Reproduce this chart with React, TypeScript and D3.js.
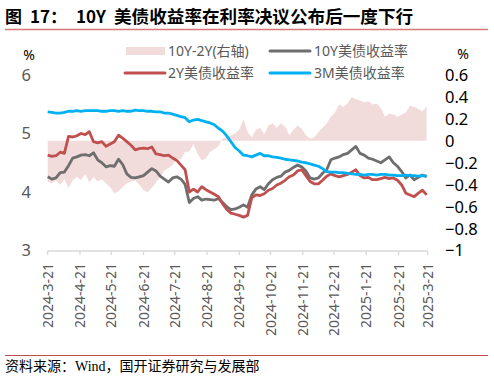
import React from "react";
import * as d3 from "d3";

// 10Y UST yield (%), sampled every 4 days from 2024-03-21
const y10 = [4.26,4.22,4.24,4.33,4.34,4.45,4.58,4.60,4.63,4.64,4.62,4.67,4.55,4.50,4.43,4.45,4.44,4.56,4.47,4.31,4.25,4.24,4.26,4.28,4.34,4.40,4.36,4.27,4.22,4.17,4.24,4.26,4.22,4.13,3.82,3.89,3.92,3.86,3.88,3.87,3.86,3.89,3.82,3.75,3.70,3.71,3.74,3.78,3.74,3.95,4.05,4.09,4.04,4.14,4.21,4.25,4.27,4.34,4.37,4.42,4.46,4.43,4.36,4.24,4.22,4.24,4.32,4.38,4.55,4.58,4.60,4.64,4.66,4.72,4.78,4.66,4.63,4.58,4.56,4.53,4.50,4.55,4.60,4.50,4.44,4.35,4.24,4.29,4.21,4.25,4.29,4.26];
// 2Y UST yield (%)
const y2 = [4.63,4.61,4.62,4.68,4.66,4.95,4.94,4.96,5.00,4.98,5.03,4.86,4.84,4.86,4.78,4.82,4.86,4.97,4.92,4.86,4.80,4.72,4.74,4.75,4.74,4.77,4.65,4.64,4.62,4.63,4.58,4.54,4.46,4.38,4.00,4.05,4.00,4.09,4.04,4.00,3.96,3.92,3.80,3.70,3.64,3.62,3.60,3.57,3.60,3.90,3.95,3.94,3.97,4.03,4.06,4.12,4.15,4.20,4.26,4.29,4.36,4.38,4.28,4.18,4.14,4.14,4.20,4.27,4.31,4.28,4.26,4.28,4.30,4.34,4.38,4.28,4.24,4.25,4.21,4.21,4.23,4.25,4.23,4.24,4.20,4.12,3.98,3.95,3.92,3.98,4.03,3.95];
// 3M UST yield (%)
const m3 = [5.37,5.36,5.35,5.35,5.36,5.38,5.38,5.39,5.38,5.39,5.39,5.39,5.39,5.38,5.38,5.39,5.39,5.38,5.39,5.38,5.38,5.40,5.39,5.39,5.38,5.38,5.37,5.37,5.35,5.35,5.33,5.31,5.29,5.27,5.20,5.23,5.24,5.22,5.20,5.18,5.15,5.09,5.04,4.96,4.86,4.76,4.70,4.63,4.62,4.60,4.63,4.66,4.62,4.62,4.60,4.59,4.58,4.56,4.55,4.54,4.53,4.51,4.50,4.48,4.46,4.44,4.40,4.35,4.34,4.34,4.33,4.33,4.32,4.31,4.30,4.30,4.29,4.30,4.30,4.29,4.30,4.30,4.29,4.29,4.28,4.28,4.29,4.28,4.28,4.27,4.28,4.27];
// 10Y-2Y spread (right axis)
const spread = [-0.37,-0.39,-0.36,-0.40,-0.35,-0.43,-0.36,-0.33,-0.36,-0.30,-0.38,-0.33,-0.37,-0.35,-0.39,-0.42,-0.48,-0.46,-0.42,-0.39,-0.37,-0.36,-0.40,-0.45,-0.47,-0.43,-0.38,-0.33,-0.27,-0.25,-0.22,-0.16,-0.17,-0.10,-0.10,-0.03,-0.12,-0.18,-0.16,-0.10,-0.08,-0.05,0.02,0.03,0.05,0.07,0.10,0.20,0.08,0.03,0.10,0.12,0.06,0.14,0.16,0.12,0.16,0.13,0.05,0.10,0.14,0.11,0.05,0.02,0.03,0.08,0.12,0.16,0.22,0.26,0.33,0.31,0.34,0.40,0.38,0.37,0.35,0.36,0.33,0.34,0.30,0.22,0.25,0.24,0.22,0.24,0.26,0.32,0.31,0.29,0.27,0.31];

const tickLabels = ["2024-3-21","2024-4-21","2024-5-21","2024-6-21","2024-7-21","2024-8-21","2024-9-21","2024-10-21","2024-11-21","2024-12-21","2025-1-21","2025-2-21","2025-3-21"];
const leftTicks = [3, 4, 5, 6];
const rightTicks = [-1, -0.8, -0.6, -0.4, -0.2, 0, 0.2, 0.4, 0.6];

const startDate = new Date(2024, 2, 21);
const dates = y10.map((_, i) => d3.timeDay.offset(startDate, 4 * i));
const tickDates = tickLabels.map((s) => {
  const [yy, mm, dd] = s.split("-").map(Number);
  return new Date(yy, mm - 1, dd);
});

const FONT = "'Noto Sans', 'Noto Sans CJK SC', sans-serif";
const GREY_TEXT = "#595959";

export default function App() {
  const W = 494, H = 381;
  const x = d3.scaleTime().domain([startDate, new Date(2025, 2, 21)]).range([47.7, 427.7]);
  const yL = d3.scaleLinear().domain([3, 6]).range([250.5, 75]);
  const yR = d3.scaleLinear().domain([-1, 0.6]).range([250.5, 75]);

  const lineL = (vals: number[]) =>
    d3.line<number>().x((_, i) => x(dates[i])).y((v) => yL(v))(vals) || "";
  const area = d3.area<number>()
    .x((_, i) => x(dates[i]))
    .y0(yR(0))
    .y1((v) => yR(v))(spread) || "";

  return (
    <svg width={W} height={H} style={{ position: "absolute", left: 0, top: 0, background: "#fff" }}>
      {/* Title */}
      <text y={23} fontFamily="'Noto Sans CJK SC', sans-serif" fontWeight="bold" fontSize={17} fill="#000">
        <tspan x={5}>图</tspan>
        <tspan x={30}>17：</tspan>
        <tspan x={76}>10Y</tspan>
        <tspan x={114} fontSize={17.6}>美债收益率在利率决议公布后一度下行</tspan>
      </text>
      <line x1={5} x2={488} y1={29.5} y2={29.5} stroke="#D9787A" strokeWidth={1.5} />

      {/* Legend */}
      <g fontFamily={FONT} fontSize={14} fill={GREY_TEXT}>
        <rect x={126} y={47} width={39} height={8} fill="#F2DCDB" />
        <text x={168} y={56}>10Y-2Y(右轴)</text>
        <line x1={270} x2={310} y1={51} y2={51} stroke="#6E6E6E" strokeWidth={3} strokeLinecap="round" />
        <text x={314} y={56}>10Y美债收益率</text>
        <line x1={125} x2={165} y1={73} y2={73} stroke="#C0504D" strokeWidth={3} strokeLinecap="round" />
        <text x={168} y={78}>2Y美债收益率</text>
        <line x1={270} x2={310} y1={73} y2={73} stroke="#00B0F0" strokeWidth={3} strokeLinecap="round" />
        <text x={314} y={78}>3M美债收益率</text>
      </g>

      {/* Spread area */}
      <path d={area} fill="#F2DCDB" />

      {/* Lines */}
      <path d={lineL(y10)} fill="none" stroke="#6E6E6E" strokeWidth={2.8} strokeLinejoin="round" />
      <path d={lineL(y2)} fill="none" stroke="#C0504D" strokeWidth={2.8} strokeLinejoin="round" />
      <path d={lineL(m3)} fill="none" stroke="#00B0F0" strokeWidth={2.8} strokeLinejoin="round" />

      {/* Left axis */}
      <g fontFamily={FONT} fontSize={16.5} fill={GREY_TEXT}>
        <text x={29} y={60} textAnchor="middle" fill="#000" fontSize={14}>%</text>
        {leftTicks.map((t) => (
          <text key={t} x={31} y={yL(t)} dy="0.36em" textAnchor="end">{t}</text>
        ))}
      </g>

      {/* Right axis */}
      <g fontFamily={FONT} fontSize={16.5} fill="#000">
        <text x={463} y={59} textAnchor="middle" fontSize={14}>%</text>
        {rightTicks.map((t) => (
          <text key={t} x={445} y={yR(t)} dy="0.36em">{d3.format("")(+t.toFixed(1))}</text>
        ))}
      </g>

      {/* X axis */}
      <line x1={47.7} x2={427.7} y1={251} y2={251} stroke="#D9D9D9" strokeWidth={1.3} />
      {tickDates.map((d, i) => (
        <g key={i} transform={`translate(${x(d)},0)`}>
          <line y1={251} y2={255} stroke="#D9D9D9" strokeWidth={1.3} />
          <text transform="translate(0,263) rotate(-90)" textAnchor="end" dy="0.36em"
            fontFamily={FONT} fontSize={14} fill={GREY_TEXT}>{tickLabels[i]}</text>
        </g>
      ))}

      {/* Footer */}
      <line x1={5} x2={488} y1={355.5} y2={355.5} stroke="#C0504D" strokeWidth={1} />
      <text x={5} y={371} fontFamily="'Liberation Serif', 'Noto Sans CJK SC', serif" fontSize={14} fill="#000">
        资料来源：Wind，国开证券研究与发展部
      </text>
    </svg>
  );
}
